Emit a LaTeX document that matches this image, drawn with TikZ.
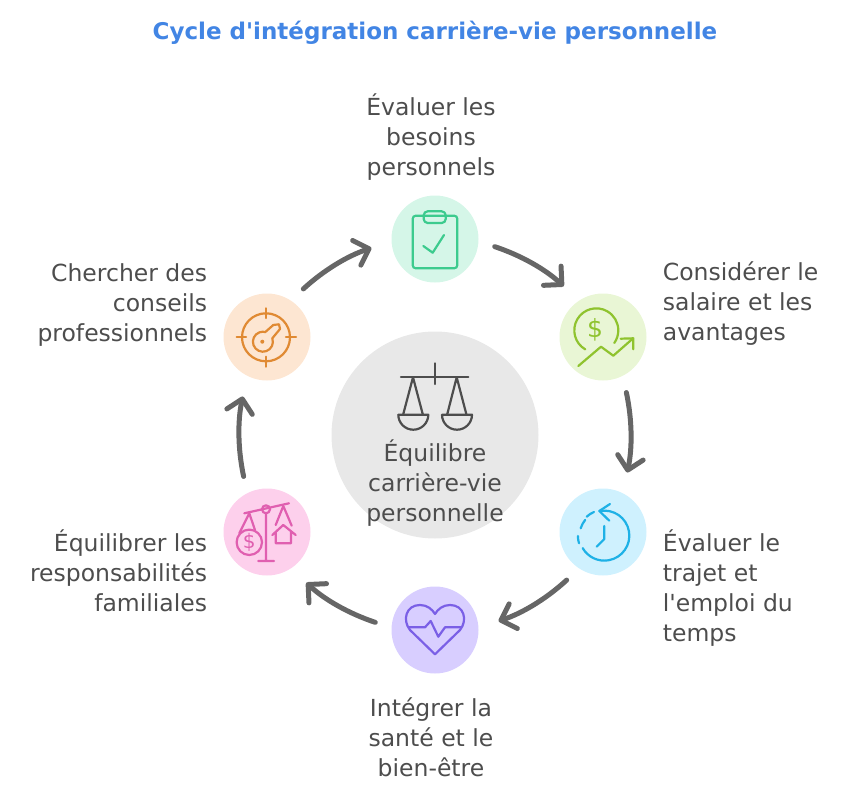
\documentclass[tikz,border=0pt]{standalone}
\usepackage{fontspec}
\setmainfont{DejaVu Sans}
\usetikzlibrary{positioning,arrows.meta}
\definecolor{inktext}{HTML}{4D4D4D}
\definecolor{titleblue}{HTML}{4285E4}
\definecolor{flowgrey}{HTML}{666666}
\definecolor{greenpale}{HTML}{D5F6E8}
\definecolor{limepale}{HTML}{E9F6D5}
\definecolor{skypale}{HTML}{CFF1FE}
\definecolor{violetpale}{HTML}{D8CEFF}
\definecolor{pinkpale}{HTML}{FDD0EC}
\definecolor{orangepale}{HTML}{FDE6D2}
\definecolor{greenline}{HTML}{3CCB8E}
\definecolor{limeline}{HTML}{8FC32E}
\definecolor{skyline}{HTML}{1EB1E6}
\definecolor{violetline}{HTML}{7A5FE6}
\definecolor{pinkline}{HTML}{E05FB0}
\definecolor{orangeline}{HTML}{E08A33}
\tikzset{
	disc/.style={shape=circle,minimum size=87pt,inner sep=0pt,fill=#1},
	caption/.style={inner sep=0pt,text=inktext,font=\fontsize{23.5}{30}\selectfont},
	flow/.style={draw=flowgrey,line width=5pt,line cap=round,-{Straight Barb[length=13pt,width=26pt,round]},bend left=12,shorten <=17pt,shorten >=21pt},
	icon/.style={draw=#1,line width=2.2pt,line cap=round,line join=round},
}
\begin{document}
\begin{tikzpicture}[x=1pt,y=-1pt]
		\useasboundingbox (0,0) rectangle (855,795);
		\node(title) at (435,33) [text=titleblue,font=\fontsize{23}{28}\selectfont\bfseries] {Cycle d\textquotesingle intégration carrière-vie personnelle};
		\node(centre) at (435,435) [shape=circle,minimum size=207pt,inner sep=0pt,fill=black!9] {};
		\node(besoins) at (435,239) [disc=greenpale] {};
		\node(salaire) at (603,337) [disc=limepale] {};
		\node(trajet) at (603,532) [disc=skypale] {};
		\node(sante) at (435,630) [disc=violetpale] {};
		\node(famille) at (267,532) [disc=pinkpale] {};
		\node(conseils) at (267,337) [disc=orangepale] {};
		\node(centretext) at (435,483) [caption,align=center] {Équilibre\\carrière-vie\\personnelle};
		\node(besoinstext) [above=15pt of besoins,xshift=-4pt,caption,align=center] {Évaluer les\\besoins\\personnels};
		\node(salairetext) [right=16pt of salaire,yshift=33pt,caption,align=left] {Considérer le\\salaire et les\\avantages};
		\node(trajettext) [right=16pt of trajet,yshift=-56pt,caption,align=left] {Évaluer le\\trajet et\\l\textquotesingle emploi du\\temps};
		\node(santetext) [below=24pt of sante,xshift=-4pt,caption,align=center] {Intégrer la\\santé et le\\bien-être};
		\node(familletext) [left=16pt of famille,yshift=-39pt,caption,align=right] {Équilibrer les\\responsabilités\\familiales};
		\node(conseilstext) [left=16pt of conseils,yshift=32pt,caption,align=right] {Chercher des\\conseils\\professionnels};
		\draw[flow] (besoins.-3) to (salaire.123);
		\draw[flow] (salaire.-63) to (trajet.63);
		\draw[flow] (trajet.-123) to (sante.3);
		\draw[flow] (sante.177) to (famille.-57);
		\draw[flow] (famille.117) to (conseils.-117);
		\draw[flow] (conseils.57) to (besoins.183);
		\begin{scope}[icon=inktext]
			\draw (401,377.3) -- (468.3,377.3) (435,363.3) -- (435,384);
			\draw (403.3,414) -- (413,377.3) -- (422.7,414) (447.3,414) -- (456.7,377.3) -- (466.3,414);
			\draw (398.3,414.7) -- (428.3,414.7) arc[start angle=0,end angle=180,radius=15];
			\draw (442,414.7) -- (472,414.7) arc[start angle=0,end angle=180,radius=15];
		\end{scope}
		\begin{scope}[icon=greenline]
			\draw[rounded corners=3pt] (412.7,215.7) rectangle (457.3,268.3);
			\draw[rounded corners=4pt] (423.7,211.3) rectangle (445.7,223);
			\draw (423.3,246) -- (432.7,252.7) -- (444,235);
		\end{scope}
		\begin{scope}[icon=limeline]
			\draw (585.3,349.4) arc[start angle=120,end angle=395,radius=22];
			\draw (578.3,366) -- (601,346.7) -- (613.3,355.7) -- (632.7,338.7);
			\draw (620.7,338.7) -- (633.3,338.3) -- (633.3,349.3);
			\node(coinsign) at (595,330) [text=limeline,font=\fontsize{25}{25}\selectfont] {\$};
		\end{scope}
		\begin{scope}[icon=skyline]
			\draw (600,511) arc[start angle=-100,end angle=150,radius=25];
			\draw (579,543.3) arc[start angle=163,end angle=180,radius=25];
			\draw (580.7,528.3) arc[start angle=197,end angle=219,radius=25];
			\draw (586.7,516.7) arc[start angle=227,end angle=247,radius=25];
			\draw (610,504) -- (599.3,511) -- (609.3,520.7);
			\draw (604.3,526) -- (604.3,539) -- (596.7,546.7);
		\end{scope}
		\begin{scope}[icon=violetline]
			\draw (435,654.3) -- (410,630) .. controls (402,620) and (406,605) .. (420,605) .. controls (427,605) and (432,609) .. (435,614) .. controls (438,609) and (443,605) .. (450,605) .. controls (464,605) and (468,620) .. (460,630) -- cycle;
			\draw (409,627.3) -- (425,627.3) -- (430.7,621) -- (438.3,636.7) -- (445,627.3) -- (461,627.3);
		\end{scope}
		\begin{scope}[icon=pinkline]
			\draw (244.3,513.3) -- (289,503.3) (266,513) -- (266,561) (258.3,561) -- (274,561);
			\draw (266,509.3) circle[radius=4];
			\draw (239.3,533.3) -- (249.3,513.3) -- (255,530);
			\draw (249.3,542.3) circle[radius=12.7];
			\draw (275.7,525) -- (283.3,506) -- (291.7,525.7);
			\draw (272.3,535) -- (283.3,525) -- (295.7,535) (275.7,532) -- (275.7,543.3) -- (291,543.3) -- (291,532);
			\node(bagsign) at (249.3,542.3) [text=pinkline,font=\fontsize{20}{20}\selectfont] {\$};
		\end{scope}
		\begin{scope}[icon=orangeline]
			\draw (266,337.3) circle[radius=24];
			\draw (266,308.3) -- (266,318) (266,356.7) -- (266,366.7) (236.7,337.3) -- (246,337.3) (286,337.3) -- (296,337.3);
			\draw (265,332.3) -- (273.3,325) -- (279,324.3) -- (280,329) -- (272.3,338.3) arc[start angle=-20,end angle=286,radius=10];
			\fill[orangeline] (262.3,341.7) circle[radius=2];
		\end{scope}
	\end{tikzpicture}
\end{document}
